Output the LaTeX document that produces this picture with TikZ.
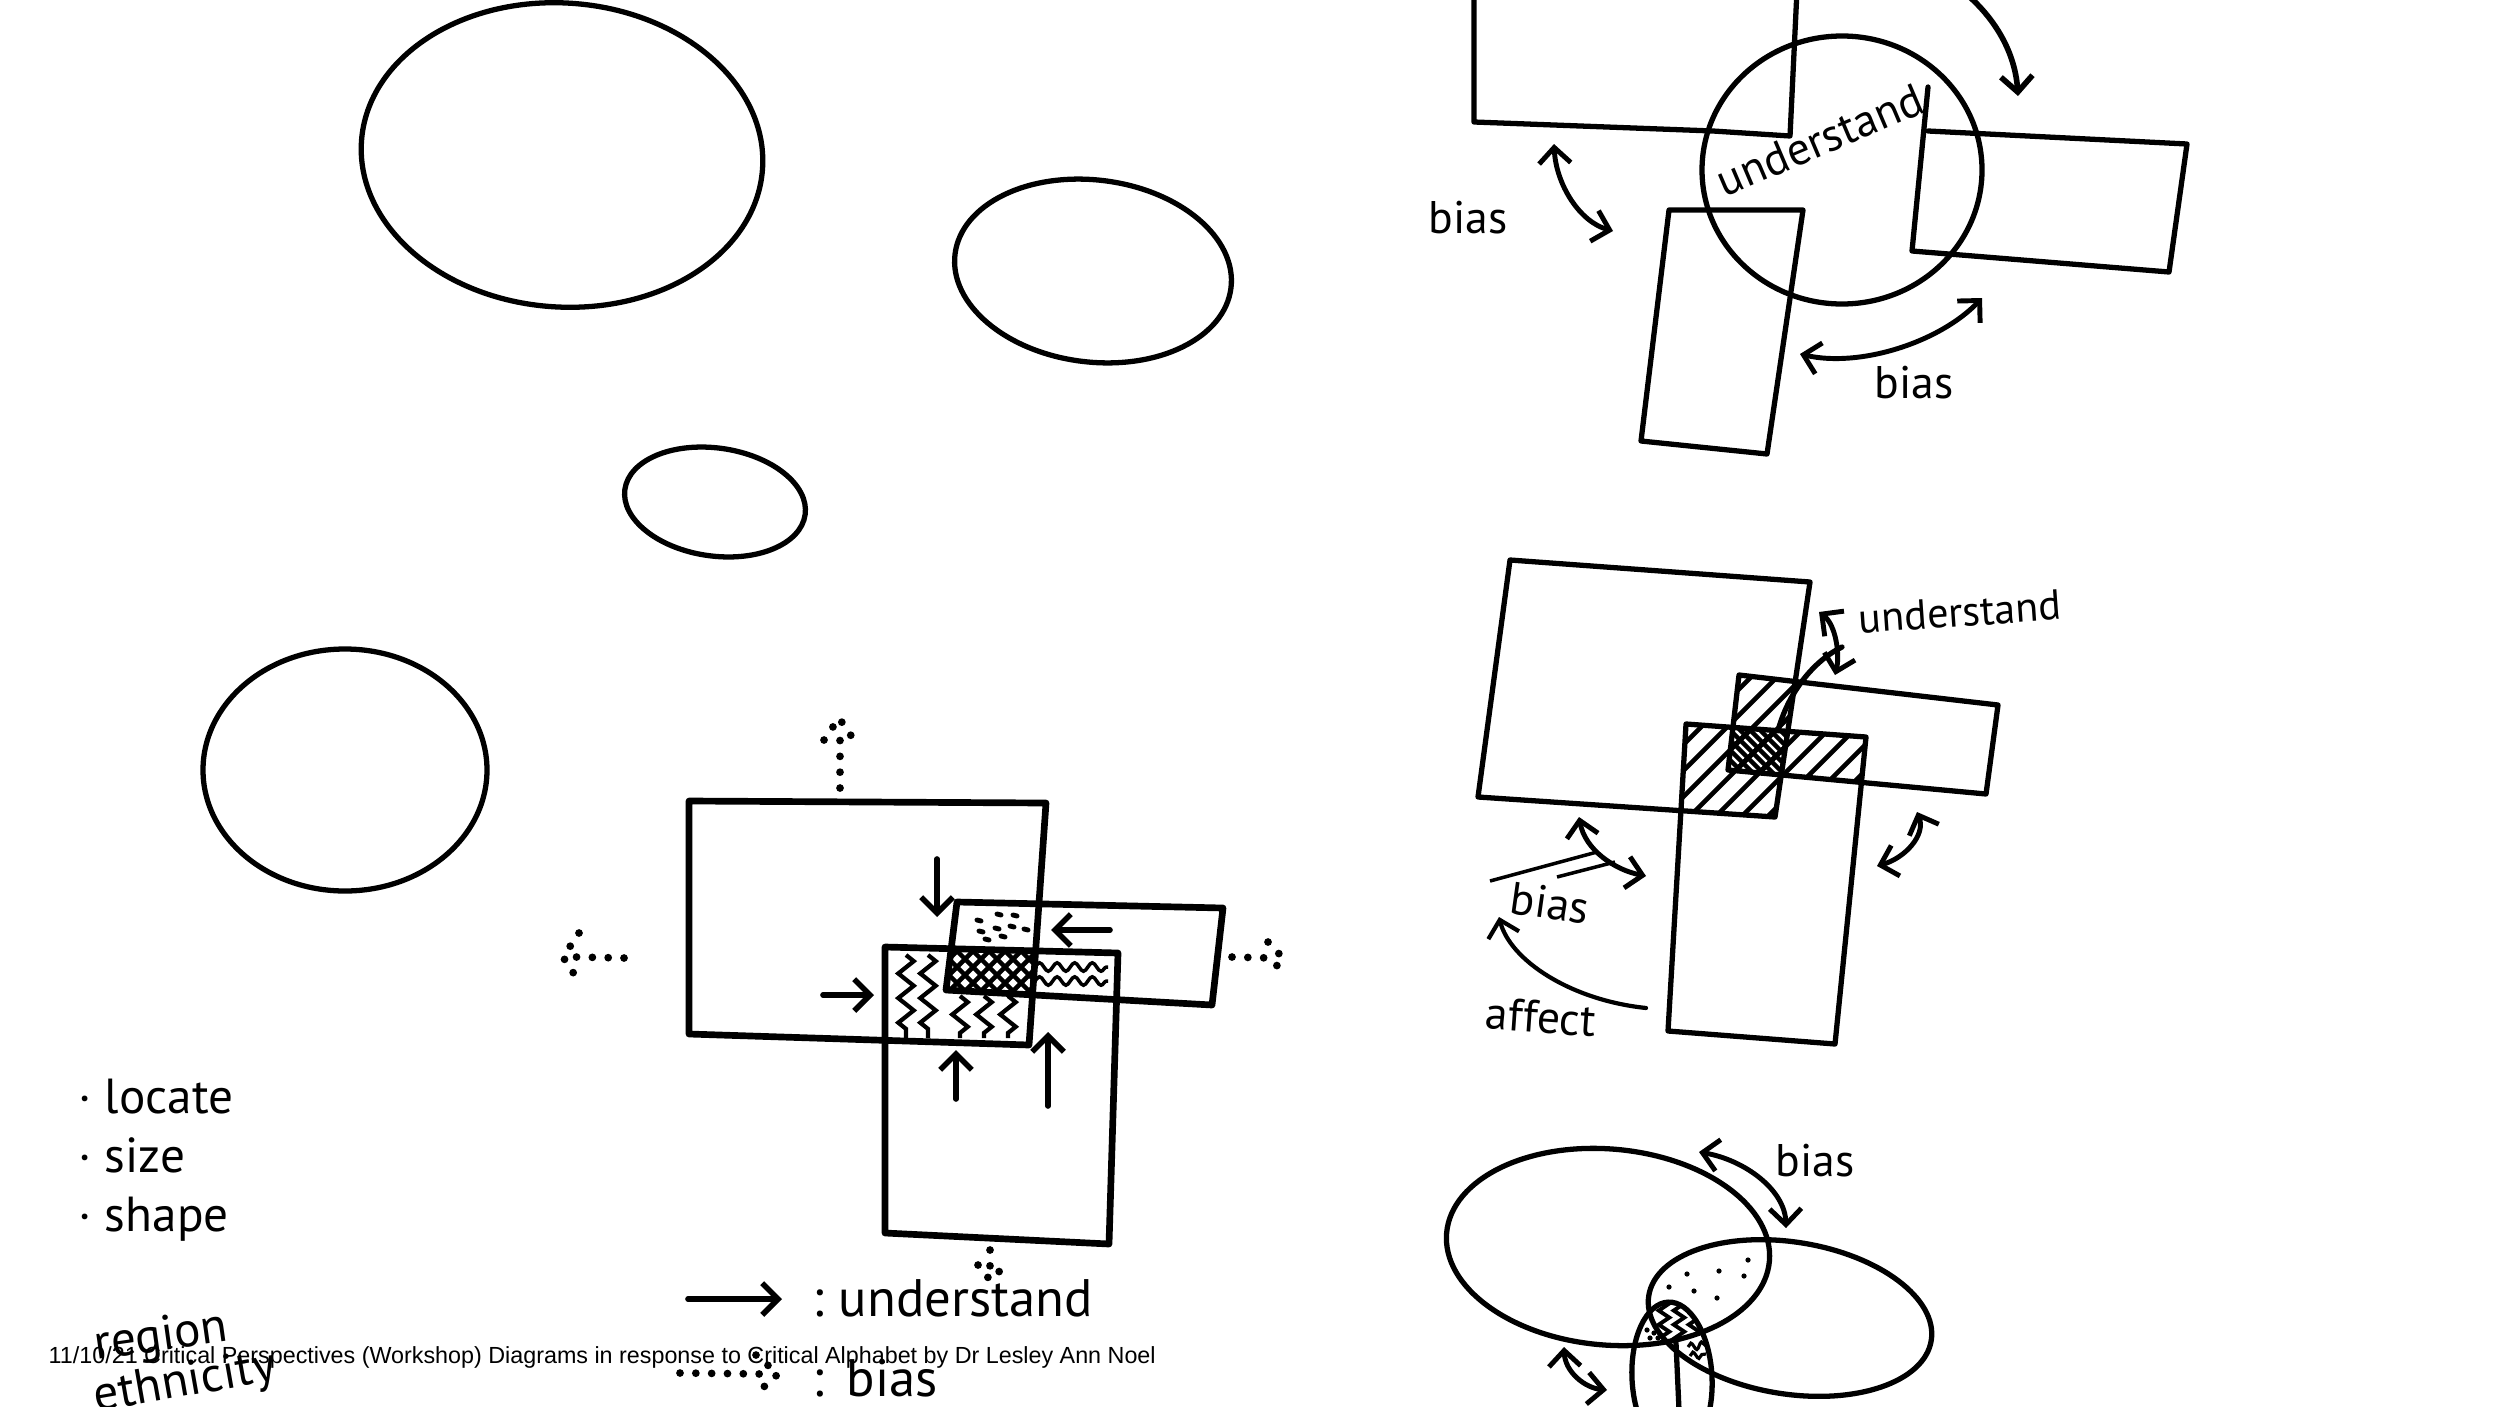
\documentclass[tikz,border=0pt]{standalone}
\usepackage{fontspec}
\setmainfont{Liberation Sans}
\newfontfamily\handfont{PT Sans}
\usetikzlibrary{arrows.meta, calc, positioning, decorations.pathmorphing}

\tikzstyle{pen} = [line width=1.5pt, line join=round, line cap=round]
\tikzstyle{heavy} = [line width=1.9pt, line join=round, line cap=round]
\tikzstyle{hatchline} = [line width=1.3pt]
\tikzstyle{zig} = [line width=1.2pt, decorate, decoration={zigzag, segment length=7pt, amplitude=2.2pt}]
\tikzstyle{wave} = [line width=1pt, decorate, decoration={snake, segment length=5pt, amplitude=1.2pt}]
\tikzstyle{arrow} = [line width=1.6pt, line cap=round, -{Straight Barb[length=4.5pt, width=9pt]}]
\tikzstyle{twoway} = [line width=1.4pt, line cap=round, {Straight Barb[length=4.5pt, width=9pt]}-{Straight Barb[length=4.5pt, width=9pt]}]
\tikzstyle{dots} = [line width=2.2pt, line cap=round, dash pattern=on 0pt off 4.5pt]
\tikzstyle{hand} = [font=\handfont\fontsize{13}{15}\selectfont, inner sep=0pt]
\tikzstyle{listitem} = [font=\handfont\fontsize{14}{16}\selectfont, inner sep=0pt, anchor=base west]
\tikzstyle{legendtext} = [font=\handfont\fontsize{15}{17}\selectfont, inner sep=0pt, anchor=base west]
\tikzstyle{caption} = [font=\fontsize{6.63}{7.8}\selectfont, inner sep=0pt, anchor=west]

\begin{document}
\begin{tikzpicture}[x=0.01cm, y=-0.01cm]
\useasboundingbox (0,0) rectangle (2500,1406);
\clip (0,0) rectangle (2500,1406);

% Empty ellipses
\draw[pen, rotate around={-4:(562,155)}] (562,155) ellipse (201 and 152);
\draw[pen, rotate around={-7:(1093,271)}] (1093,271) ellipse (139 and 91);
\draw[pen, rotate around={-8:(715,502)}] (715,502) ellipse (91 and 54);
\draw[pen] (345,770) ellipse (142 and 121);

% List
\node (locate) [listitem] at (78,1113) {· locate};
\node (size) [listitem, below=0.59cm of locate.base west, anchor=base west] {· size};
\node (shape) [listitem, below=0.59cm of size.base west, anchor=base west] {· shape};
\node (region) [listitem, rotate=8] at (96,1360) {region};
\node (ethnicity) [listitem, rotate=10] at (96,1412) {ethnicity};

% Middle diagram
\def\Mone{(689,801) -- (1046,803) -- (1029,1045) -- (689,1034) -- cycle}
\def\Mtwo{(885,947) -- (1118,953) -- (1109,1244) -- (885,1233) -- cycle}
\def\Mthree{(957,902) -- (1223,908) -- (1212,1005) -- (946,990) -- cycle}
\begin{scope}
\clip \Mone; \clip \Mtwo; \clip \Mthree;
\foreach \k in {826,842,...,1010} {
  \draw[hatchline] (\k,1050) -- ++(150,-150);
  \draw[hatchline] (\k,900) -- ++(150,150);
}
\end{scope}
\foreach \x/\y in {977/920,997/914,1013/915,979/931,995/928,1010/926,1024/929,985/939,1001/936}
  \draw[line width=1.4pt, line cap=round] (\x,\y) -- ++(4,1);
\foreach \x in {906,928}
  \draw[zig] (\x,955) -- (\x,1038);
\foreach \x in {960,984,1008}
  \draw[zig] (\x,996) -- (\x,1038);
\draw[wave] (1034,967) -- (1108,967);
\draw[wave] (1034,981) -- (1108,981);
\draw[heavy] \Mone;
\draw[heavy] \Mtwo;
\draw[heavy] \Mthree;

\coordinate (downA) at (937,859); \coordinate (downB) at (937,917);
\coordinate (leftA) at (1110,930); \coordinate (leftB) at (1051,930);
\coordinate (rightA) at (823,995); \coordinate (rightB) at (874,995);
\coordinate (upA) at (956,1099); \coordinate (upB) at (956,1050);
\coordinate (up2A) at (1048,1106); \coordinate (up2B) at (1048,1032);
\draw[arrow] (downA) -- (downB);
\draw[arrow] (leftA) -- (leftB);
\draw[arrow] (rightA) -- (rightB);
\draw[arrow] (upA) -- (upB);
\draw[arrow] (up2A) -- (up2B);

% dotted arrows
\coordinate (dupA) at (840,788); \coordinate (dupB) at (839,718);
\draw[dots] (dupA) -- ($(dupB)+(1,12)$);
\draw[dots] (824,740) -- (dupB) -- (854,740);
\coordinate (drA) at (1232,957); \coordinate (drB) at (1283,958);
\draw[dots] (drA) -- ($(drB)+(-12,0)$);
\draw[dots] (1268,942) -- (drB) -- (1270,974);
\coordinate (dlA) at (624,958); \coordinate (dlB) at (563,957);
\draw[dots] (dlA) -- ($(dlB)+(12,0)$);
\draw[dots] (579,933) -- (dlB) -- (576,977);
\coordinate (ddA) at (990,1250); \coordinate (ddB) at (990,1280);
\draw[dots] (ddA) -- ($(ddB)+(0,-10)$);
\draw[dots] (978,1265) -- (ddB) -- (1004,1267);

% Legend
\coordinate (legA) at (688,1299); \coordinate (legB) at (782,1299);
\draw[arrow] (legA) -- (legB);
\node (legcolon) [legendtext] at (812,1316) {:};
\node (legund) [legendtext] at (838,1316) {understand};
\coordinate (lbA) at (680,1373); \coordinate (lbB) at (778,1374);
\draw[dots] (lbA) -- ($(lbB)+(-14,0)$);
\draw[dots] (756,1355) -- (lbB) -- (756,1394);
\node (legcolon2) [legendtext] at (812,1396) {:};
\node (legbias) [legendtext] at (846,1396) {bias};

% Top right: boxes around a circle
\draw[pen] (1474,-10) -- (1474,122) -- (1713,131) -- (1790,136) -- (1797,-10);
\draw[pen] (1842,170) ellipse (140 and 134);
\draw[pen] (1928,87) -- (1912,251) -- (2169,272) -- (2187,144) -- (1928,131);
\draw[pen] (1669,210) -- (1803,210) -- (1767,454) -- (1641,441) -- cycle;
\node (und1) [hand, rotate=23] at (1820,140) {understand};
\node (bias1) [hand] at (1468,218) {bias};
\node (bias2) [hand] at (1914,383) {bias};
\coordinate (tarA) at (1955,-15); \coordinate (tarB) at (2018,96);
\draw[arrow] (tarA) .. controls (1992,12) and (2015,50) .. (tarB);
\coordinate (b1A) at (1554,144); \coordinate (b1B) at (1613,231);
\draw[twoway] (b1A) .. controls (1556,185) and (1580,222) .. (b1B);
\coordinate (b2A) at (1800,354); \coordinate (b2B) at (1982,298);
\draw[twoway] (b2A) .. controls (1860,368) and (1940,342) .. (b2B);

% Middle right: hatched overlaps
\def\Aa{(1510,560) -- (1810,582) -- (1775,817) -- (1478,797) -- cycle}
\def\Bb{(1686,724) -- (1866,737) -- (1835,1044) -- (1668,1031) -- cycle}
\def\Cc{(1739,675) -- (1998,705) -- (1986,794) -- (1728,770) -- cycle}
\begin{scope}
\clip \Aa; \clip \Bb;
\foreach \k in {1500,1526,...,1900} \draw[hatchline] (\k,850) -- ++(250,-250);
\end{scope}
\begin{scope}
\clip \Aa; \clip \Cc;
\foreach \k in {1500,1526,...,1900} \draw[hatchline] (\k,850) -- ++(250,-250);
\end{scope}
\begin{scope}
\clip \Bb; \clip \Cc;
\foreach \k in {1500,1526,...,1900} \draw[hatchline] (\k,850) -- ++(250,-250);
\end{scope}
\begin{scope}
\clip \Aa; \clip \Bb; \clip \Cc;
\foreach \k in {1600,1610,...,1740} \draw[hatchline] (\k,650) -- ++(200,200);
\end{scope}
\draw[pen] \Aa;
\draw[pen] \Bb;
\draw[pen] \Cc;
\node (und2) [hand, font=\handfont\fontsize{12}{14}\selectfont, rotate=4] at (1960,612) {understand};
\coordinate (u2A) at (1819,612); \coordinate (u2B) at (1835,675);
\draw[twoway] (u2A) .. controls (1836,625) and (1840,655) .. (u2B);
\coordinate (lnA) at (1842,647); \coordinate (lnB) at (1779,727);
\draw[pen] (lnA) .. controls (1815,660) and (1790,690) .. (lnB);
\coordinate (r2A) at (1917,812); \coordinate (r2B) at (1877,866);
\draw[twoway] (r2A) .. controls (1926,835) and (1905,858) .. (r2B);
\coordinate (l2A) at (1579,817); \coordinate (l2B) at (1646,876);
\draw[twoway] (l2A) .. controls (1585,850) and (1615,870) .. (l2B);
\draw[line width=1pt] (1490,881) -- (1597,852);
\draw[line width=1pt] (1557,877) -- (1615,862);
\node (bias3) [hand, rotate=-8] at (1550,903) {bias};
\coordinate (afA) at (1646,1008); \coordinate (afB) at (1499,917);
\draw[arrow, line width=1.2pt] (afA) .. controls (1570,1000) and (1510,960) .. (afB);
\node (affect) [hand, rotate=-4] at (1541,1017) {affect};

% Bottom right: ellipses
\begin{scope}
\clip[rotate around={-5:(1608,1247)}] (1608,1247) ellipse (162 and 98);
\clip[rotate around={-9:(1790,1318)}] (1790,1318) ellipse (143 and 76);
\clip[rotate around={3:(1672,1378)}] (1672,1378) ellipse (40 and 76);
\foreach \x in {1664,1679,1694}
  \draw[line width=1.1pt, decorate, decoration={zigzag, segment length=4pt, amplitude=1.5pt}] (\x,1300) -- (\x,1345);
\end{scope}
\foreach \x/\y in {1748/1260,1687/1274,1719/1271,1744/1276,1669/1287,1694/1291,1717/1298,1647/1330,1654/1333,1658/1338,1650/1338}
  \fill (\x,\y) circle (2.6);
\draw[line width=0.9pt, decorate, decoration={snake, segment length=3pt, amplitude=1pt}] (1688,1347) -- (1706,1345);
\draw[line width=0.9pt, decorate, decoration={snake, segment length=3pt, amplitude=1pt}] (1690,1356) -- (1706,1354);
\draw[pen, rotate around={-5:(1608,1247)}] (1608,1247) ellipse (162 and 98);
\draw[pen, rotate around={-9:(1790,1318)}] (1790,1318) ellipse (143 and 76);
\draw[pen, rotate around={3:(1672,1378)}] (1672,1378) ellipse (40 and 76);
\draw[pen] (1676,1343) -- (1679,1410);
\node (bias4) [hand] at (1815,1161) {bias};
\coordinate (e1A) at (1699,1152); \coordinate (e1B) at (1786,1228);
\draw[twoway] (e1A) .. controls (1745,1160) and (1785,1190) .. (e1B);
\coordinate (e2A) at (1564,1347); \coordinate (e2B) at (1607,1390);
\draw[twoway] (e2A) .. controls (1565,1372) and (1585,1388) .. (e2B);

% Caption
\node (footer) [caption] at (48,1357) {11/10/21 Critical Perspectives (Workshop) Diagrams in response to Critical Alphabet by Dr Lesley Ann Noel};

\end{tikzpicture}
\end{document}
